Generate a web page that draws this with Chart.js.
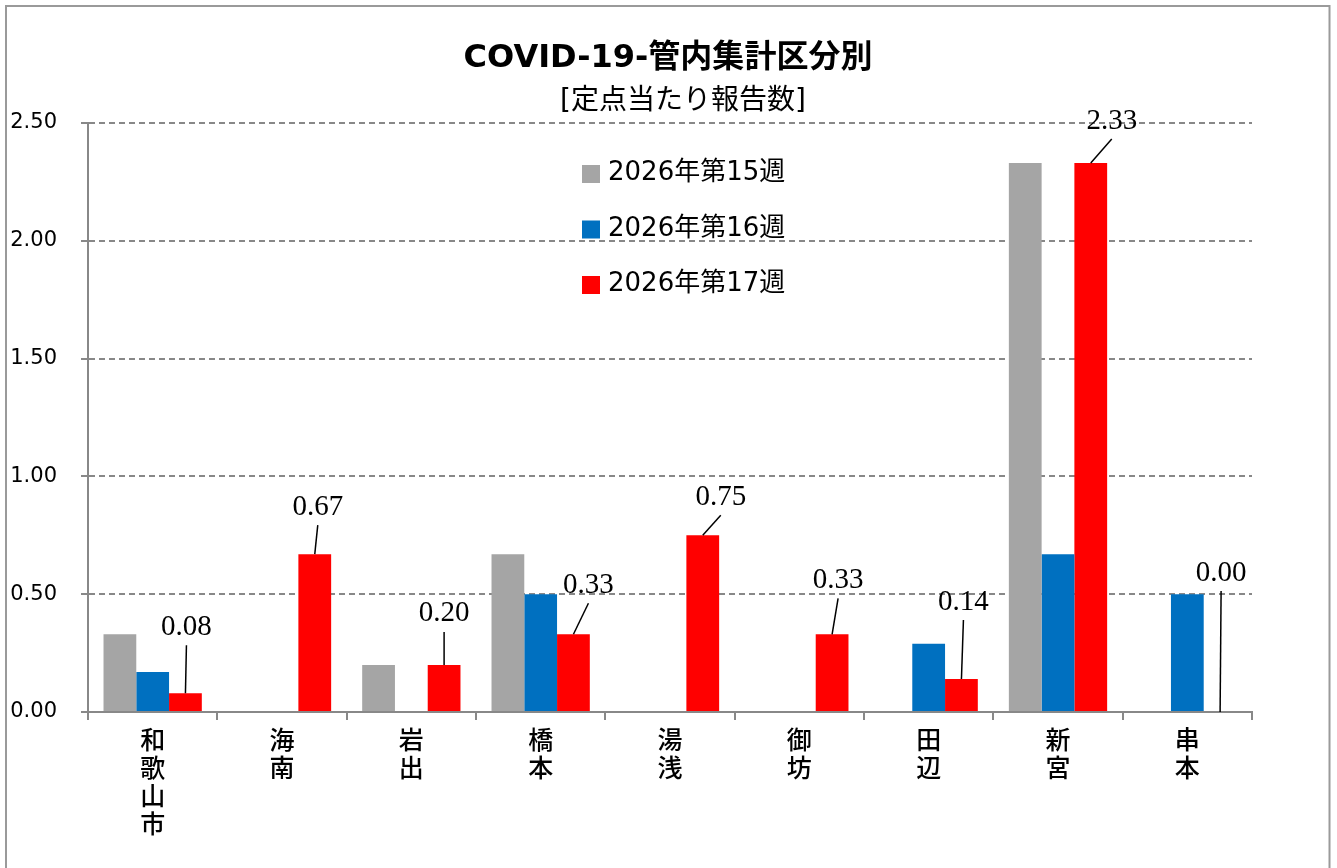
<!DOCTYPE html>
<html>
<head>
<meta charset="utf-8">
<script src="https://cdn.jsdelivr.net/npm/chart.js@4.4.0/dist/chart.umd.min.js"></script>
<style>
  html, body { margin: 0; padding: 0; background: #fff; }
  #wrap { width: 1337px; height: 868px; }
</style>
</head>
<body>
<div id="wrap"><canvas id="areaChart" width="1337" height="868"></canvas></div>
<script>
// data
const areas = ['和歌山市', '海南', '岩出', '橋本', '湯浅', '御坊', '田辺', '新宮', '串本'];
const seriesNames = ['2026年第15週', '2026年第16週', '2026年第17週'];
const week15 = [0.33, 0, 0.20, 0.67, 0, 0, 0, 2.33, 0];
const week16 = [0.17, 0, 0, 0.50, 0, 0, 0.29, 0.67, 0.50];
const week17 = [0.08, 0.67, 0.20, 0.33, 0.75, 0.33, 0.14, 2.33, 0.00];
const yTicks = [0, 0.5, 1, 1.5, 2, 2.5];

const colors = ['#A5A5A5', '#0070C0', '#FF0000'];
const titleText = 'COVID-19-管内集計区分別';
const subTitleText = '[定点当たり報告数]';

// label nudges for the week-17 values (dx, height above bar top), like Excel's dragged labels
const labelShift = [[1, 66], [3, 47], [0, 51], [15, 49], [18, 38], [6, 54], [2, 77], [21, 42], [1, 139]];

const sansFont = '"DejaVu Sans", "Noto Sans CJK JP", sans-serif';

const extras = {
  id: 'extras',
  beforeDraw(chart) {
    const c = chart.ctx;
    c.save();
    c.fillStyle = '#fff';
    c.fillRect(0, 0, chart.width, chart.height);
    c.strokeStyle = '#9a9a9a';
    c.lineWidth = 2;
    c.strokeRect(6, 6, 1323.5, 900);
    c.restore();
  },
  afterDatasetsDraw(chart) {
    const c = chart.ctx;
    const meta = chart.getDatasetMeta(2);
    c.save();
    c.font = '29px "Liberation Serif", "DejaVu Serif", serif';
    c.fillStyle = '#000';
    c.strokeStyle = '#000';
    c.lineWidth = 1.5;
    c.textAlign = 'center';
    c.textBaseline = 'middle';
    meta.data.forEach((bar, i) => {
      const [dx, dy] = labelShift[i];
      const lx = bar.x + dx;
      const ly = bar.y - dy;
      c.beginPath();
      c.moveTo(lx, ly + 18);
      c.lineTo(bar.x, bar.y);
      c.stroke();
      c.fillText(week17[i].toFixed(2), lx, ly);
    });
    c.restore();
  },
  afterDraw(chart) {
    const c = chart.ctx;
    c.save();
    c.fillStyle = '#000';
    c.textAlign = 'center';
    c.textBaseline = 'alphabetic';
    c.font = 'bold 32px ' + sansFont;
    c.fillText(titleText, 668, 67);
    c.font = '28px ' + sansFont;
    c.textBaseline = 'middle';
    c.fillText(subTitleText, 683, 102);

    // legend inside the plot
    c.textAlign = 'left';
    c.textBaseline = 'alphabetic';
    c.font = '26px ' + sansFont;
    seriesNames.forEach((name, i) => {
      const top = 165 + i * 55.5;
      c.fillStyle = colors[i];
      c.fillRect(582, top, 18, 18);
      c.fillStyle = '#000';
      c.fillText(name, 608, top + 15);
    });
    c.restore();
  }
};

const ctx = document.getElementById('areaChart').getContext('2d');
const chart = new Chart(ctx, {
  type: 'bar',
  data: {
    labels: areas.map(a => a.split('')),
    datasets: [
      { label: seriesNames[0], data: week15, backgroundColor: colors[0] },
      { label: seriesNames[1], data: week16, backgroundColor: colors[1] },
      { label: seriesNames[2], data: week17, backgroundColor: colors[2] }
    ]
  },
  options: {
    responsive: false,
    animation: false,
    datasets: {
      bar: { categoryPercentage: 0.76, barPercentage: 1.0, borderWidth: 0 }
    },
    layout: { padding: { left: 10, top: 123, right: 85, bottom: 0 } },
    plugins: {
      legend: { display: false },
      title: { display: false },
      tooltip: { enabled: false }
    },
    scales: {
      x: {
        offset: true,
        grid: {
          offset: true,
          drawOnChartArea: false,
          drawTicks: true,
          tickLength: 8,
          color: '#888',
          lineWidth: 2
        },
        border: { color: '#888', width: 2 },
        ticks: {
          color: '#000',
          maxRotation: 0,
          autoSkip: false,
          padding: 5,
          font: { family: '"Noto Sans CJK JP", sans-serif', size: 25, weight: '500', lineHeight: 1.12 }
        },
        afterFit(scale) { scale.height = 156; }
      },
      y: {
        min: 0,
        max: 2.5,
        afterBuildTicks(scale) { scale.ticks = yTicks.map(v => ({ value: v })); },
        grid: {
          color: '#888',
          lineWidth: 2,
          tickLength: 7,
          tickBorderDash: []
        },
        border: { color: '#888', width: 2, dash: [6, 4] },
        ticks: {
          color: '#000',
          padding: 24,
          font: { family: sansFont, size: 21 },
          callback: v => Number(v).toFixed(2)
        },
        afterFit(scale) { scale.width = 78; }
      }
    }
  },
  plugins: [extras]
});
</script>
</body>
</html>
